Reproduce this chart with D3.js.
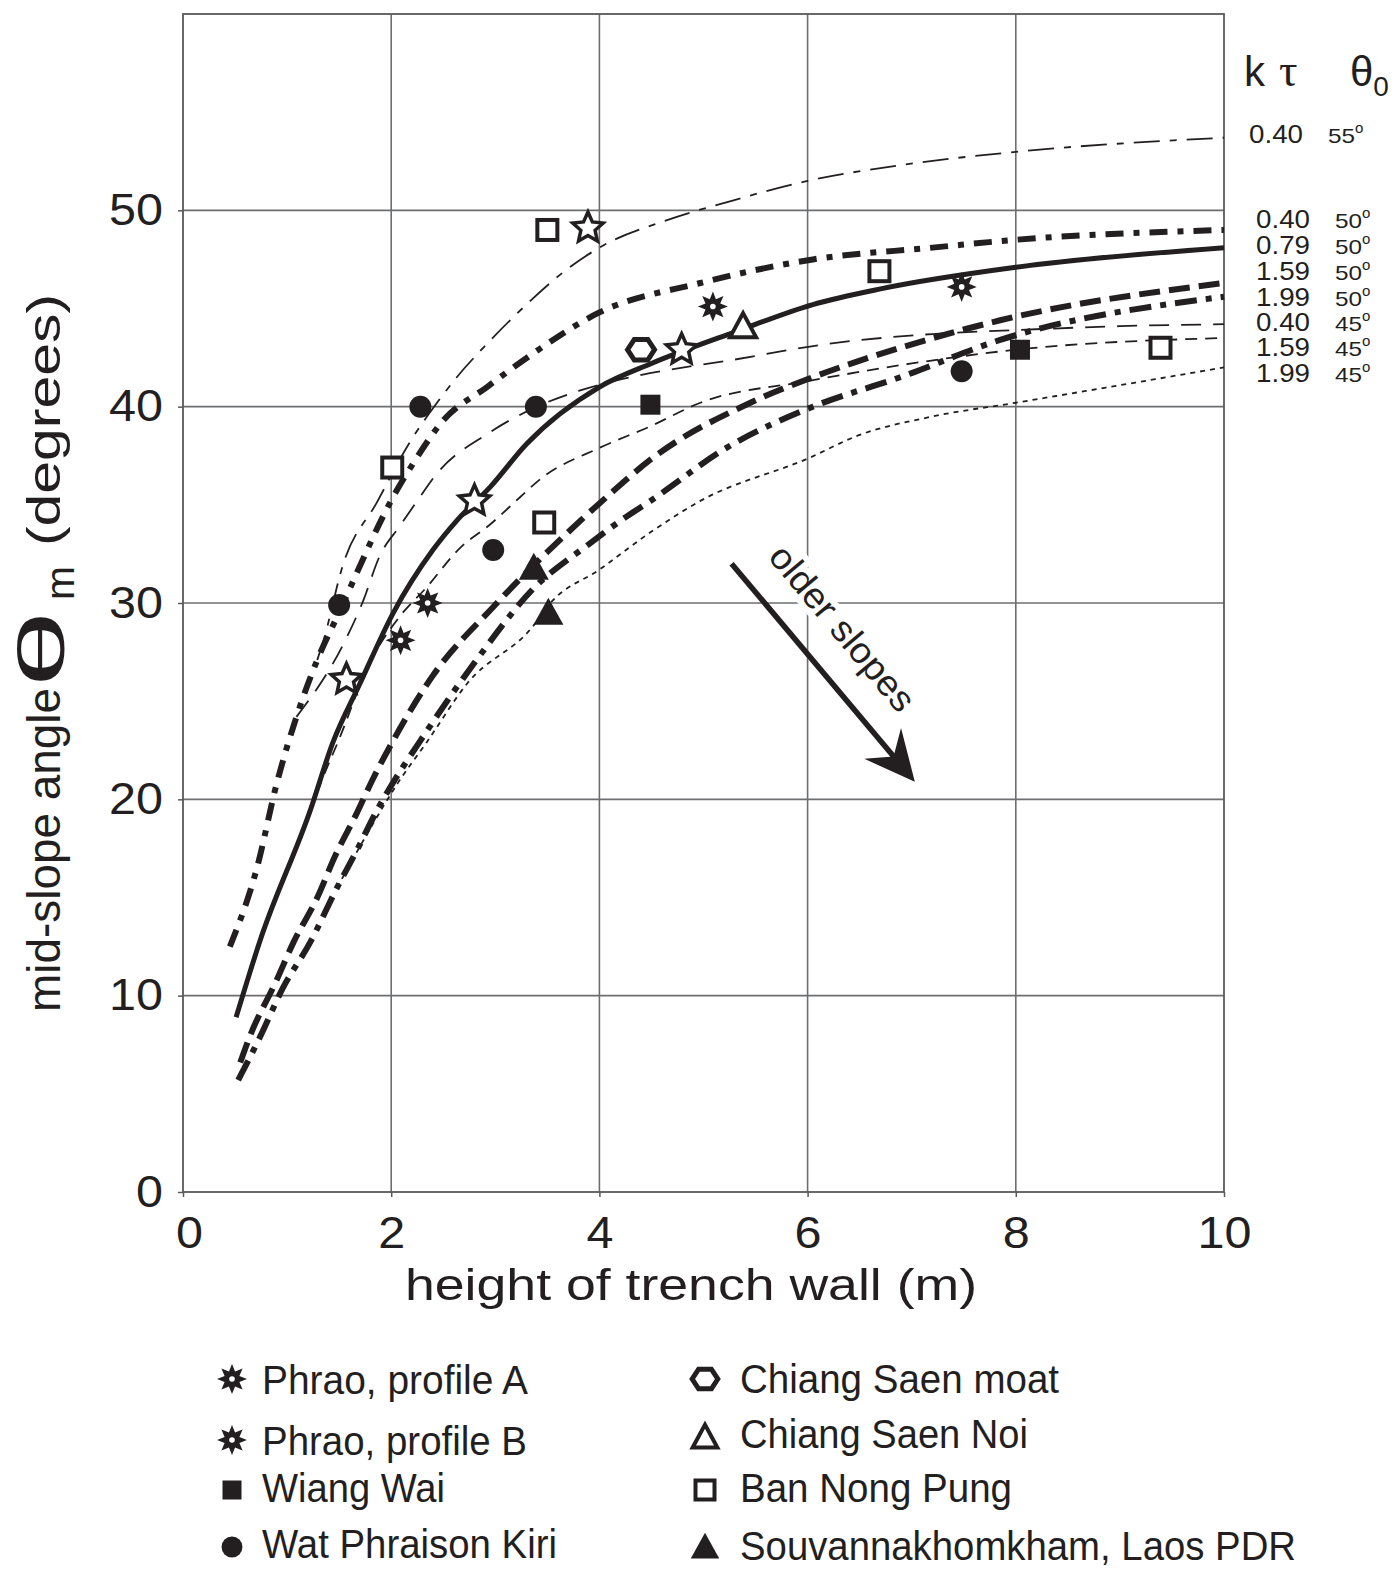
<!DOCTYPE html>
<html lang="en">
<head>
<meta charset="UTF-8" />
<script src="https://d3js.org/d3.v7.min.js"></script>
<title>mid-slope angle vs height of trench wall</title>
<style>
  body { margin: 0; background: #fff; }
  text { font-family: "Liberation Sans", Arial, sans-serif; fill: #231f20; }
</style>
</head>
<body>
<script>
// ticks
var xTicks = [0, 2, 4, 6, 8, 10];
var yTicks = [0, 10, 20, 30, 40, 50];

// model curves, [height (m), mid-slope angle (deg)]
var curve040_55 = [[1.29,27.1],[1.35,28.1],[1.54,32.0],[1.86,35.1],[2.18,38.2],[2.44,40.2],[2.63,41.5],[2.92,43.2],[3.2,44.7],[3.69,47.0],[4.0,48.1],[4.65,49.5],[5.28,50.5],[6.0,51.5],[6.89,52.3],[8.04,53.0],[10,53.7]];
var curve040_50 = [[0.45,12.5],[0.71,16.5],[0.9,20.8],[1.09,24.2],[1.29,27.1],[1.48,29.3],[2.05,35.7],[2.21,37.1],[2.5,39.3],[2.92,41.0],[3.36,42.7],[4.0,44.8],[4.97,46.3],[6.05,47.5],[7.2,48.1],[8.0,48.5],[10,49.0]];
var curve079_50 = [[0.51,8.9],[0.74,12.8],[1.22,19.4],[1.44,22.9],[1.7,25.9],[2.02,29.5],[2.4,32.7],[2.63,34.2],[2.95,35.9],[3.3,38.1],[4.0,41.0],[4.5,42.2],[5.3,43.8],[6.05,45.2],[6.7,46.0],[8.0,47.1],[10,48.1]];
var curve159_50 = [[0.55,6.6],[0.64,7.9],[0.9,10.8],[1.06,12.7],[1.29,15.0],[1.46,17.1],[1.67,19.3],[1.83,21.1],[2.02,23.0],[2.4,26.3],[2.98,29.8],[3.5,32.6],[4.07,35.4],[4.49,37.3],[5.45,40.2],[6.05,41.5],[6.89,43.0],[7.85,44.4],[10,46.3]];
var curve199_50 = [[0.53,5.7],[0.74,7.9],[0.96,10.4],[1.22,12.7],[1.48,15.5],[1.67,17.4],[1.83,19.1],[2.37,23.7],[2.82,27.1],[3.36,30.7],[3.9,33.0],[4.26,34.4],[4.49,35.2],[5.22,37.9],[6.05,40.0],[6.89,41.5],[7.85,43.4],[10,45.6]];
var curve040_45 = [[1.09,24.2],[1.54,27.9],[1.73,30.1],[1.89,32.4],[2.08,33.9],[2.25,35.2],[2.44,36.6],[2.92,38.6],[3.4,40.0],[3.8,40.8],[4.3,41.5],[5.3,42.4],[6.2,43.2],[7.2,43.7],[8.0,43.9],[9.0,44.1],[10,44.2]];
var curve159_45 = [[1.22,19.4],[1.32,20.8],[1.51,23.2],[1.77,26.7],[2.08,29.3],[2.34,30.8],[2.66,32.8],[2.95,34.0],[3.24,35.4],[3.43,36.3],[4.0,37.9],[4.49,39.0],[4.97,40.2],[6.0,41.3],[7.0,42.2],[8.0,42.9],[10,43.5]];
var curve199_45 = [[1.48,15.5],[1.83,18.8],[2.06,20.8],[2.34,22.9],[2.73,25.9],[3.36,28.8],[3.53,30.0],[4.0,31.7],[4.49,33.6],[4.97,35.2],[6.02,37.4],[6.47,38.5],[7.2,39.5],[8.0,40.2],[10,42.0]];

var curveKTau   = ["0.40", "0.40", "0.79", "1.59", "1.99", "0.40", "1.59", "1.99"];
var curveTheta0 = ["55", "50", "50", "50", "50", "45", "45", "45"];

// field data
var phraoA      = [[1.57,26.1],[2.8,35.2],[3.89,49.1],[4.79,42.9]];
var phraoB      = [[2.09,28.1],[2.35,30.0],[5.09,45.1],[7.48,46.1]];
var wiangWai    = [[4.49,40.1],[8.04,42.9]];
var watPhraison = [[1.5,29.9],[2.28,40.0],[2.98,32.7],[3.39,40.0],[7.48,41.8]];
var csMoat      = [[4.4,42.9]];
var csNoi       = [[5.38,44.1]];
var banNongPung = [[3.5,49.0],[2.01,36.9],[3.47,34.1],[6.69,46.9],[9.39,43.0]];
var souvanna    = [[3.37,31.8],[3.51,29.5]];

var siteNames = ["Phrao, profile A", "Phrao, profile B", "Wiang Wai", "Wat Phraison Kiri",
                 "Chiang Saen moat", "Chiang Saen Noi", "Ban Nong Pung", "Souvannakhomkham, Laos PDR"];

// arrow annotation (data units)
var arrowFrom = [5.27, 32.0], arrowTo = [7.03, 20.9];

var ink = "#231f20";
var W = 1400, H = 1575;
var x = d3.scaleLinear().domain([0, 10]).range([183, 1224]);
var y = d3.scaleLinear().domain([0, 60]).range([1192, 14]);

var svg = d3.select("body").append("svg").attr("width", W).attr("height", H);

// grid
svg.append("g").selectAll("line").data(yTicks.slice(1)).enter().append("line")
  .attr("x1", x(0)).attr("x2", x(10)).attr("y1", d => y(d)).attr("y2", d => y(d))
  .attr("stroke", "#6d6e70").attr("stroke-width", 1.6);
svg.append("g").selectAll("line").data(xTicks.slice(1, -1)).enter().append("line")
  .attr("y1", y(0)).attr("y2", y(60)).attr("x1", d => x(d)).attr("x2", d => x(d))
  .attr("stroke", "#6d6e70").attr("stroke-width", 1.6);
svg.append("rect").attr("x", x(0)).attr("y", y(60)).attr("width", x(10) - x(0)).attr("height", y(0) - y(60))
  .attr("fill", "none").attr("stroke", "#58595b").attr("stroke-width", 1.8);

// axes
var yAxis = svg.append("g").attr("transform", "translate(" + x(0) + ",0)")
  .call(d3.axisLeft(y).tickValues(yTicks).tickSize(5).tickPadding(15));
var xAxis = svg.append("g").attr("transform", "translate(0," + y(0) + ")")
  .call(d3.axisBottom(x).tickValues(xTicks).tickSize(5).tickPadding(20));
[yAxis, xAxis].forEach(function(a) {
  a.select(".domain").remove();
  a.selectAll(".tick line").attr("stroke", "#58595b").attr("stroke-width", 1.5);
  a.selectAll("text").attr("font-size", 44).attr("font-family", "Liberation Sans, Arial, sans-serif")
    .attr("fill", ink)
    .attr("textLength", function(d) { return String(d).length * 27; })
    .attr("lengthAdjust", "spacingAndGlyphs");
});
xAxis.selectAll(".tick").filter(d => d === 0).select("text").attr("x", 6);

// axis titles
svg.append("text").attr("x", 405).attr("y", 1300).attr("font-size", 45)
  .attr("textLength", 572).attr("lengthAdjust", "spacingAndGlyphs")
  .text("height of trench wall (m)");

var yt = svg.append("g").attr("transform", "translate(60,0) rotate(-90)");
yt.append("text").attr("x", -1012).attr("y", 0).attr("font-size", 46)
  .attr("textLength", 324).attr("lengthAdjust", "spacingAndGlyphs").text("mid-slope angle");
yt.append("text").attr("x", -688).attr("y", 4).attr("font-size", 64)
  .attr("textLength", 78).attr("lengthAdjust", "spacingAndGlyphs").text("θ");
yt.append("text").attr("x", -600).attr("y", 14).attr("font-size", 40)
  .attr("textLength", 34).attr("lengthAdjust", "spacingAndGlyphs").text("m");
yt.append("text").attr("x", -546).attr("y", 0).attr("font-size", 46)
  .attr("textLength", 252).attr("lengthAdjust", "spacingAndGlyphs").text("(degrees)");

// older slopes annotation
svg.append("text")
  .attr("transform", "translate(833,636) rotate(50)")
  .attr("text-anchor", "middle").attr("font-size", 36)
  .attr("textLength", 205).attr("lengthAdjust", "spacingAndGlyphs")
  .attr("stroke", "#fff").attr("stroke-width", 12).attr("paint-order", "stroke")
  .text("older slopes");

var ax0 = x(arrowFrom[0]), ay0 = y(arrowFrom[1]), ax1 = x(arrowTo[0]), ay1 = y(arrowTo[1]);
var ang = Math.atan2(ay1 - ay0, ax1 - ax0);
function rotPt(dx, dy) {
  return [ax1 + dx * Math.cos(ang) - dy * Math.sin(ang), ay1 + dx * Math.sin(ang) + dy * Math.cos(ang)];
}
svg.append("line").attr("x1", ax0).attr("y1", ay0)
  .attr("x2", rotPt(-20, 0)[0]).attr("y2", rotPt(-20, 0)[1])
  .attr("stroke", ink).attr("stroke-width", 5.5);
svg.append("path")
  .attr("d", "M" + [rotPt(0, 0), rotPt(-50, -24), rotPt(-33, 0), rotPt(-50, 24)].join("L") + "Z")
  .attr("fill", ink);

// curves
var curves = [curve040_55, curve040_50, curve079_50, curve159_50, curve199_50, curve040_45, curve159_45, curve199_45];
var curveStyle = [
  { w: 1.8, dash: "26,10,7,10" },
  { w: 6,   dash: "18,10,6,10" },
  { w: 5,   dash: null },
  { w: 6,   dash: "21,9" },
  { w: 6,   dash: "22,9,6,9" },
  { w: 1.8, dash: "20,12" },
  { w: 1.8, dash: "12,8" },
  { w: 1.8, dash: "5,5" }
];
var line = d3.line().x(d => x(d[0])).y(d => y(d[1])).curve(d3.curveMonotoneX);
svg.append("g").selectAll("path").data(curves).enter().append("path")
  .attr("d", line)
  .attr("fill", "none").attr("stroke", ink)
  .attr("stroke-width", (d, i) => curveStyle[i].w)
  .attr("stroke-dasharray", (d, i) => curveStyle[i].dash);

// curve labels on the right
var hdr = svg.append("text").attr("x", 1244).attr("y", 86).attr("font-size", 42);
hdr.append("tspan").text("k");
hdr.append("tspan").attr("x", 1279).attr("font-family", "Liberation Serif, serif").attr("font-size", 46).text("τ");
hdr.append("tspan").attr("x", 1350).text("θ");
hdr.append("tspan").attr("font-size", 28).attr("dy", 10).text("0");

var labelRowY = [143, 228, 254, 280, 306, 331, 356, 382];
curveKTau.forEach(function(k, i) {
  var nx = i === 0 ? 1249 : 1256, dx = i === 0 ? 1328 : 1335;
  var t = svg.append("text").attr("y", labelRowY[i]);
  t.append("tspan").attr("x", nx).attr("font-size", 25)
    .attr("textLength", 54).attr("lengthAdjust", "spacingAndGlyphs").text(k);
  t.append("tspan").attr("x", dx).attr("font-size", 21)
    .attr("textLength", 27).attr("lengthAdjust", "spacingAndGlyphs").text(curveTheta0[i]);
  t.append("tspan").attr("font-size", 15).attr("dy", -10).text("o");
});

// symbols
function starPath(n, R, r) {
  var pts = [];
  for (var i = 0; i < 2 * n; i++) {
    var a = Math.PI * i / n - Math.PI / 2, rr = i % 2 ? r : R;
    pts.push([rr * Math.cos(a), rr * Math.sin(a)]);
  }
  return "M" + pts.join("L") + "Z";
}
function hexPath(R) {
  var pts = d3.range(6).map(i => [R * Math.cos(i * Math.PI / 3), 0.88 * R * Math.sin(i * Math.PI / 3)]);
  return "M" + pts.join("L") + "Z";
}
function drawSymbol(g, type, s) {
  if (type === "openStar") {
    g.append("path").attr("d", starPath(5, 16 * s, 7.5 * s)).attr("fill", "#fff").attr("stroke", ink).attr("stroke-width", 3.5);
  } else if (type === "fillStar") {
    g.append("path").attr("d", starPath(8, 15 * s, 8 * s)).attr("fill", ink);
    g.append("circle").attr("r", 2.8 * s).attr("fill", "#fff");
  } else if (type === "fillSquare") {
    g.append("rect").attr("x", -10 * s).attr("y", -10 * s).attr("width", 20 * s).attr("height", 20 * s).attr("fill", ink);
  } else if (type === "circle") {
    g.append("circle").attr("r", 11 * s).attr("fill", ink);
  } else if (type === "hexagon") {
    g.append("path").attr("d", hexPath(13.5 * s)).attr("fill", "#fff").attr("stroke", ink).attr("stroke-width", 5);
  } else if (type === "openTriangle") {
    g.append("path").attr("d", "M0," + (-13 * s) + "L" + (13 * s) + "," + (11 * s) + "L" + (-13 * s) + "," + (11 * s) + "Z")
      .attr("fill", "#fff").attr("stroke", ink).attr("stroke-width", 4);
  } else if (type === "openSquare") {
    g.append("rect").attr("x", -10 * s).attr("y", -10 * s).attr("width", 20 * s).attr("height", 20 * s)
      .attr("fill", "#fff").attr("stroke", ink).attr("stroke-width", 4);
  } else if (type === "fillTriangle") {
    g.append("path").attr("d", "M0," + (-15 * s) + "L" + (15 * s) + "," + (12 * s) + "L" + (-15 * s) + "," + (12 * s) + "Z")
      .attr("fill", ink);
  }
}

var sites = [phraoA, phraoB, wiangWai, watPhraison, csMoat, csNoi, banNongPung, souvanna];
var siteSymbol = ["openStar", "fillStar", "fillSquare", "circle", "hexagon", "openTriangle", "openSquare", "fillTriangle"];
var legendSymbol = ["fillStar", "fillStar", "fillSquare", "circle", "hexagon", "openTriangle", "openSquare", "fillTriangle"];

sites.forEach(function(pts, i) {
  pts.forEach(function(p) {
    var g = svg.append("g").attr("transform", "translate(" + x(p[0]) + "," + y(p[1]) + ")");
    drawSymbol(g, siteSymbol[i], 1);
  });
});

// legend
var legX = [232, 705], legTextX = [262, 740];
var legSymY = [1379, 1440, 1490, 1547, 1379, 1437, 1490, 1547];
var legBase = [1394, 1455, 1502, 1558, 1393, 1448, 1502, 1560];
var legLen  = [266, 265, 183, 295, 319, 288, 272, 556];
siteNames.forEach(function(name, i) {
  var col = i < 4 ? 0 : 1;
  var g = svg.append("g").attr("transform", "translate(" + legX[col] + "," + legSymY[i] + ")");
  drawSymbol(g, legendSymbol[i], i < 2 ? 1.0 : 0.95);
  svg.append("text").attr("x", legTextX[col]).attr("y", legBase[i])
    .attr("font-family", "Liberation Sans Narrow, Liberation Sans, Arial, sans-serif")
    .attr("font-size", 40)
    .attr("textLength", legLen[i]).attr("lengthAdjust", "spacingAndGlyphs")
    .text(name);
});
</script>
</body>
</html>
